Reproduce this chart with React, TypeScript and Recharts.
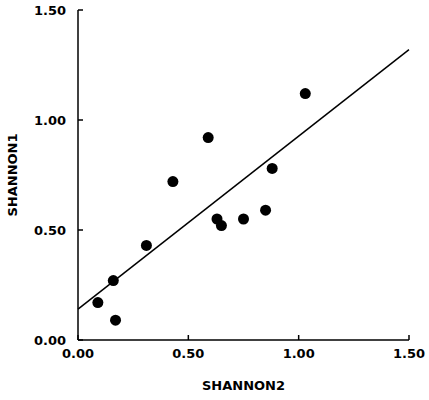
import { ReferenceLine, Scatter, ScatterChart, XAxis, YAxis } from "recharts";

// SHANNON2 (x) vs SHANNON1 (y), one point per site
const shannon2 = [0.09, 0.16, 0.17, 0.31, 0.43, 0.59, 0.63, 0.65, 0.75, 0.85, 0.88, 1.03];
const shannon1 = [0.17, 0.27, 0.09, 0.43, 0.72, 0.92, 0.55, 0.52, 0.55, 0.59, 0.78, 1.12];

// fitted line end points
const fitX = [0, 1.5];
const fitY = [0.14, 1.32];

const ticks = [0, 0.5, 1, 1.5];

const data = shannon2.map((x, i) => ({ x, y: shannon1[i] }));

const font = "'DejaVu Sans', Verdana, sans-serif";
const tickStyle = { fontSize: 13, fontWeight: 700, fill: "#000", fontFamily: font };

const Dot = (p: any) => <circle cx={p.cx} cy={p.cy} r={5.5} fill="#000" />;

export default function App() {
  return (
    <div style={{ position: "absolute", left: 0, top: 0, background: "#fff" }}>
      <ScatterChart width={429} height={400} margin={{ top: 10, right: 20, bottom: 10, left: 0 }}>
        <XAxis
          type="number"
          dataKey="x"
          domain={[0, 1.5]}
          ticks={ticks}
          allowDataOverflow
          height={50}
          tickSize={-5}
          tickMargin={14}
          stroke="#000"
          strokeWidth={1.5}
          tick={tickStyle}
          tickFormatter={(v: number) => v.toFixed(2)}
          label={{
            value: "SHANNON2",
            position: "insideBottom",
            offset: 0,
            style: { fontSize: 13, fontWeight: 700, fill: "#000", fontFamily: font },
          }}
        />
        <YAxis
          type="number"
          dataKey="y"
          domain={[0, 1.5]}
          ticks={ticks}
          allowDataOverflow
          width={78}
          tickSize={-5}
          tickMargin={17}
          stroke="#000"
          strokeWidth={1.5}
          tick={tickStyle}
          tickFormatter={(v: number) => v.toFixed(2)}
          label={{
            value: "SHANNON1",
            angle: -90,
            position: "insideLeft",
            offset: 12,
            style: { fontSize: 13, fontWeight: 700, fill: "#000", fontFamily: font, textAnchor: "middle" },
          }}
        />
        <ReferenceLine
          segment={[
            { x: fitX[0], y: fitY[0] },
            { x: fitX[1], y: fitY[1] },
          ]}
          stroke="#000"
          strokeWidth={1.5}
        />
        <Scatter data={data} shape={Dot} isAnimationActive={false} />
      </ScatterChart>
    </div>
  );
}
